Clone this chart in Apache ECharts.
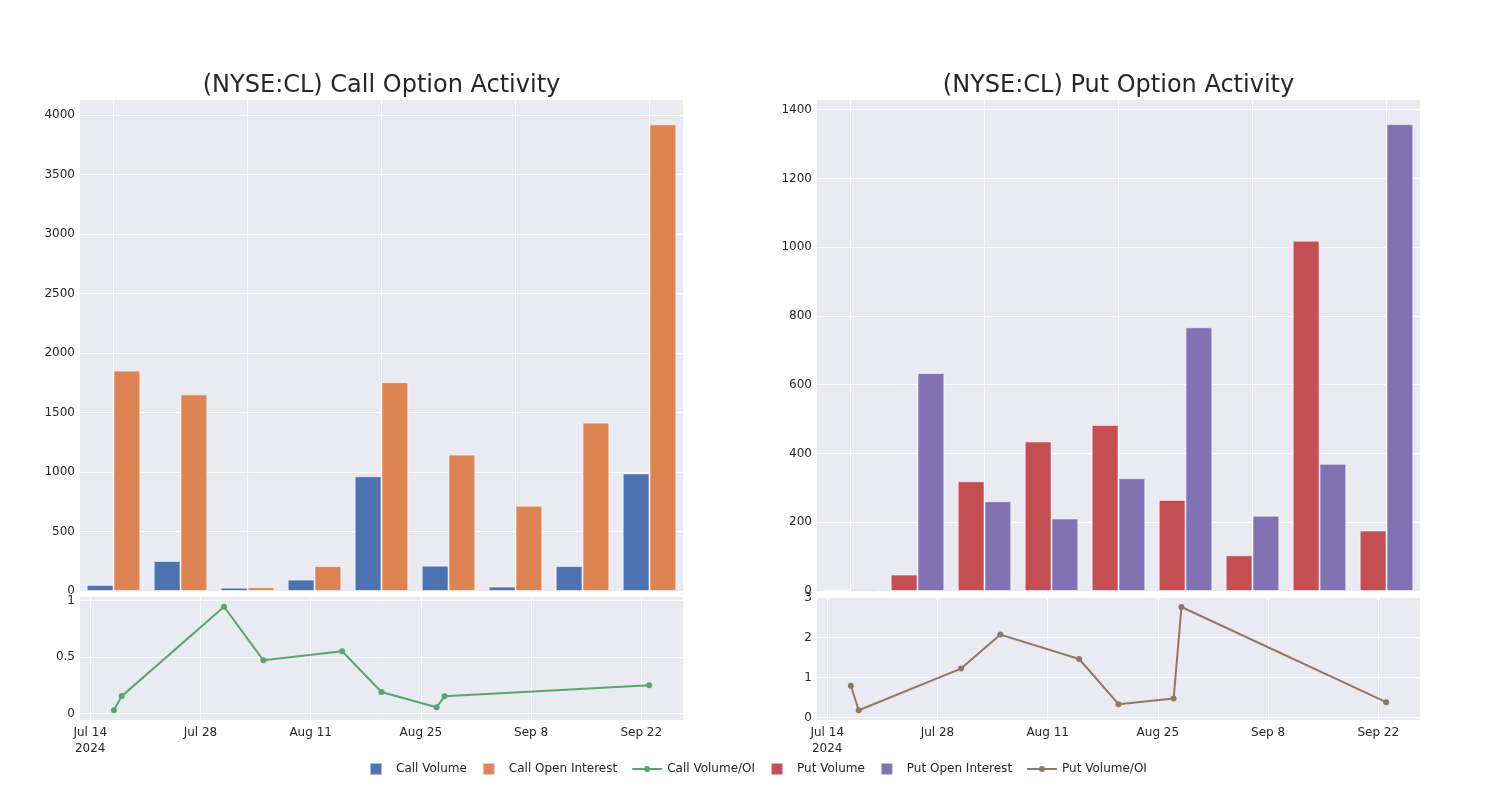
<!DOCTYPE html>
<html>
<head>
<meta charset="utf-8">
<script src="https://cdn.jsdelivr.net/npm/echarts@6/dist/echarts.min.js"></script>
<style>
html,body{margin:0;padding:0;background:#fff;}
#chart{width:1500px;height:800px;}
</style>
</head>
<body>
<div id="chart"></div>
<script>
// ---- data ----
const categories = ['Jul 17', 'Jul 18', 'Jul 31', 'Aug 5', 'Aug 15', 'Aug 20', 'Aug 27', 'Aug 28', 'Sep 23'];
const callVolume = [51, 252, 28, 96, 964, 213, 37, 210, 988];
const callOpenInterest = [1852, 1652, 31, 210, 1754, 1146, 717, 1415, 3921];
const putVolume = [3, 48, 319, 435, 483, 265, 104, 1019, 176];
const putOpenInterest = [5, 634, 261, 211, 328, 767, 219, 370, 1358];

const ratioDates = ['2024-07-17', '2024-07-18', '2024-07-31', '2024-08-05', '2024-08-15', '2024-08-20', '2024-08-27', '2024-08-28', '2024-09-23'];
const callRatio = [0.03, 0.154, 0.944, 0.47, 0.55, 0.19, 0.056, 0.152, 0.25];
const putRatio = [0.79, 0.18, 1.22, 2.07, 1.46, 0.33, 0.47, 2.76, 0.38];

const callBarTicks = [0, 500, 1000, 1500, 2000, 2500, 3000, 3500, 4000];
const putBarTicks = [0, 200, 400, 600, 800, 1000, 1200, 1400];
const callRatioTicks = [0, 0.5, 1];
const putRatioTicks = [0, 1, 2, 3];
const dateTicks = ['2024-07-14', '2024-07-28', '2024-08-11', '2024-08-25', '2024-09-08', '2024-09-22'];
const dateTickLabels = ['Jul 14\n2024', 'Jul 28', 'Aug 11', 'Aug 25', 'Sep 8', 'Sep 22'];
const barGridTicks = [0, 2, 4, 6, 8];

// ---- helpers ----
function ts(s) { const p = s.split('-').map(Number); return Date.UTC(p[0], p[1] - 1, p[2]); }
const dateTickTs = dateTicks.map(ts);
const DAY = 86400000;
const timeMin = ts('2024-07-17') - 4.3 * DAY;
const timeMax = ts('2024-09-23') + 4.3 * DAY;

const FONT = 'DejaVu Sans';
const TXT = '#262626';
const BG = '#eaeaf2';
const C = {
  callVol: '#4c72b0', callOI: '#dd8452', callRatio: '#55a868',
  putVol: '#c44e52', putOI: '#8172b3', putRatio: '#937860'
};

function grid(left, top, height) {
  return { left: left, top: top, width: 603, height: height, show: true, backgroundColor: BG, borderWidth: 0, containLabel: false };
}
function barXAxis(gi) {
  return {
    type: 'value', gridIndex: gi, min: -0.5, max: 8.5,
    axisLine: { show: false },
    axisTick: { show: false, customValues: barGridTicks },
    axisLabel: { show: false, customValues: barGridTicks },
    splitLine: { show: true, lineStyle: { color: '#fff', width: 1 } }
  };
}
function dateXAxis(gi) {
  return {
    type: 'value', gridIndex: gi, min: timeMin, max: timeMax,
    axisLine: { show: false },
    axisTick: { show: false, customValues: dateTickTs },
    axisLabel: {
      customValues: dateTickTs, color: TXT, fontFamily: FONT, fontSize: 12, margin: 5, lineHeight: 16,
      formatter: function (v) {
        let best = 0;
        for (let i = 0; i < dateTickTs.length; i++) if (Math.abs(dateTickTs[i] - v) < Math.abs(dateTickTs[best] - v)) best = i;
        return dateTickLabels[best];
      }
    },
    splitLine: { show: true, lineStyle: { color: '#fff', width: 1 } }
  };
}
function yAxis(gi, min, max, ticks) {
  return {
    type: 'value', gridIndex: gi, min: min, max: max,
    axisLine: { show: false },
    axisTick: { show: false, customValues: ticks },
    axisLabel: { customValues: ticks, color: TXT, fontFamily: FONT, fontSize: 12, margin: 5,
      formatter: function (v) { return String(+v.toFixed(4)); } },
    splitLine: { show: true, lineStyle: { color: '#fff', width: 1 } }
  };
}
function barSeries(name, values, color, gi) {
  return {
    name: name, type: 'bar', xAxisIndex: gi, yAxisIndex: gi,
    data: values.map((v, i) => [i, v]),
    barGap: '0%', barCategoryGap: '20%',
    itemStyle: { color: color, borderColor: 'rgba(255,255,255,0.55)', borderWidth: 1 },
    emphasis: { disabled: true }
  };
}
function lineSeries(name, values, color, gi) {
  return {
    name: name, type: 'line', xAxisIndex: gi, yAxisIndex: gi,
    data: ratioDates.map((d, i) => [ts(d), values[i]]),
    symbol: 'circle', symbolSize: 6, showSymbol: true,
    lineStyle: { color: color, width: 2 }, itemStyle: { color: color },
    emphasis: { disabled: true }
  };
}
const sq = 'path://M0,0H10V10H0Z';
const lineIcon = 'path://M0,5H30V7H0Z M12,6A3,3 0 1 1 18,6A3,3 0 1 1 12,6Z';

const option = {
  animation: false,
  backgroundColor: '#fff',
  title: [
    { text: '(NYSE:CL) Call Option Activity', left: 376.5, top: 69, textAlign: 'center',
      textStyle: { fontFamily: FONT, fontSize: 24, fontWeight: 'normal', color: TXT } },
    { text: '(NYSE:CL) Put Option Activity', left: 1113.5, top: 69, textAlign: 'center',
      textStyle: { fontFamily: FONT, fontSize: 24, fontWeight: 'normal', color: TXT } }
  ],
  legend: {
    left: 364, top: 757, itemWidth: 30, itemHeight: 12, itemGap: 15,
    textStyle: { fontFamily: FONT, fontSize: 12, color: TXT },
    data: [
      { name: 'Call Volume', icon: sq },
      { name: 'Call Open Interest', icon: sq },
      { name: 'Call Volume/OI', icon: lineIcon },
      { name: 'Put Volume', icon: sq },
      { name: 'Put Open Interest', icon: sq },
      { name: 'Put Volume/OI', icon: lineIcon }
    ]
  },
  grid: [grid(80, 100, 491), grid(80, 597, 123), grid(817, 100, 491), grid(817, 597, 123)],
  xAxis: [barXAxis(0), dateXAxis(1), barXAxis(2), dateXAxis(3)],
  yAxis: [
    yAxis(0, 0, 4125, callBarTicks),
    yAxis(1, -0.057, 1.03, callRatioTicks),
    yAxis(2, 0, 1428, putBarTicks),
    yAxis(3, -0.065, 3.01, putRatioTicks)
  ],
  series: [
    barSeries('Call Volume', callVolume, C.callVol, 0),
    barSeries('Call Open Interest', callOpenInterest, C.callOI, 0),
    lineSeries('Call Volume/OI', callRatio, C.callRatio, 1),
    barSeries('Put Volume', putVolume, C.putVol, 2),
    barSeries('Put Open Interest', putOpenInterest, C.putOI, 2),
    lineSeries('Put Volume/OI', putRatio, C.putRatio, 3)
  ]
};
const chart = echarts.init(document.getElementById('chart'), null, { renderer: 'canvas' });
chart.setOption(option);
</script>
</body>
</html>
